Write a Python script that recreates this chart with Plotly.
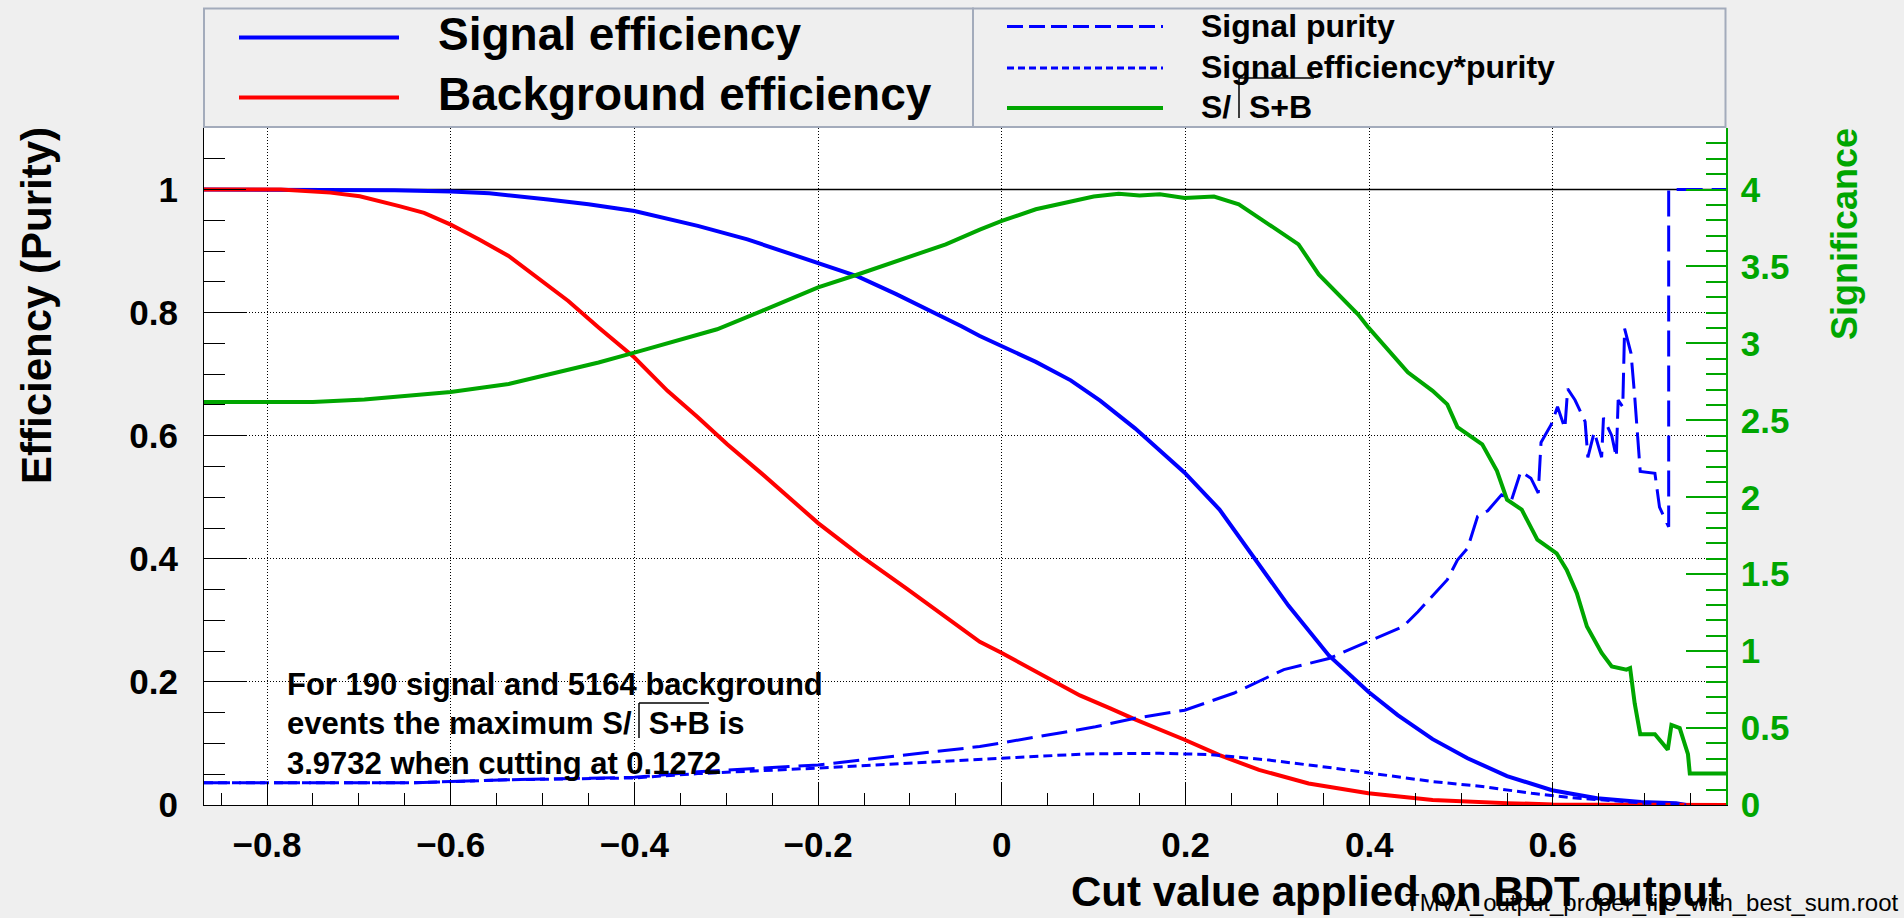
import plotly.graph_objects as go

# ---------------------------------------------------------------- data
# Cut value on the BDT output and the efficiencies read at that cut
sig_eff_cut = [-0.8686, -0.70, -0.661, -0.60, -0.558, -0.494, -0.45, -0.40, -0.331, -0.277,
               -0.20, -0.157, -0.115, -0.077, -0.044, -0.024, 0.0, 0.037, 0.075, 0.107,
               0.145, 0.172, 0.199, 0.237, 0.275, 0.312, 0.356, 0.399, 0.431, 0.469,
               0.507, 0.55, 0.599, 0.648, 0.696, 0.734, 0.745]
sig_eff = [1.0, 1.0, 0.999, 0.997, 0.994, 0.984, 0.976, 0.965, 0.941, 0.919,
           0.881, 0.859, 0.830, 0.803, 0.778, 0.762, 0.746, 0.720, 0.690, 0.657,
           0.612, 0.576, 0.540, 0.480, 0.400, 0.324, 0.243, 0.184, 0.146, 0.107,
           0.076, 0.047, 0.024, 0.011, 0.005, 0.003, 0.0]

bkg_eff_cut = [-0.8686, -0.785, -0.731, -0.699, -0.656, -0.629, -0.60, -0.569, -0.537, -0.504,
               -0.472, -0.439, -0.40, -0.364, -0.331, -0.299, -0.261, -0.20, -0.153, -0.104,
               -0.061, -0.024, 0.0, 0.053, 0.085, 0.118, 0.145, 0.199, 0.237, 0.28,
               0.334, 0.399, 0.469, 0.55, 0.60, 0.7884]
bkg_eff = [1.0, 1.0, 0.995, 0.989, 0.973, 0.962, 0.943, 0.919, 0.892, 0.854,
           0.819, 0.776, 0.727, 0.673, 0.630, 0.586, 0.538, 0.458, 0.404, 0.352,
           0.306, 0.265, 0.247, 0.203, 0.178, 0.157, 0.139, 0.106, 0.081, 0.057,
           0.035, 0.019, 0.008, 0.003, 0.001, 0.0]

purity_cut = [-0.8686, -0.645, -0.60, -0.537, -0.40, -0.331, -0.20, -0.115, -0.044, -0.024,
              0.0, 0.053, 0.102, 0.145, 0.199, 0.253, 0.307, 0.356, 0.399, 0.437,
              0.453, 0.485, 0.496, 0.507, 0.518, 0.529, 0.544, 0.555, 0.565, 0.576,
              0.584, 0.587, 0.598, 0.605, 0.613, 0.616, 0.624, 0.635, 0.638, 0.645,
              0.653, 0.655, 0.664, 0.669, 0.671, 0.676, 0.678, 0.685, 0.689, 0.695,
              0.711, 0.716, 0.726, 0.726, 0.7884]
purity = [0.036, 0.036, 0.038, 0.041, 0.045, 0.054, 0.065, 0.080, 0.092, 0.095,
          0.101, 0.114, 0.127, 0.141, 0.154, 0.182, 0.220, 0.238, 0.266, 0.290,
          0.314, 0.366, 0.398, 0.417, 0.469, 0.478, 0.504, 0.496, 0.542, 0.531,
          0.507, 0.589, 0.618, 0.647, 0.612, 0.676, 0.658, 0.623, 0.565, 0.606,
          0.565, 0.629, 0.600, 0.565, 0.658, 0.647, 0.774, 0.734, 0.664, 0.542,
          0.539, 0.484, 0.452, 1.0, 1.0]

eff_pur_cut = [-0.8686, -0.645, -0.60, -0.537, -0.40, -0.331, -0.20, -0.024, 0.0, 0.091,
               0.172, 0.226, 0.291, 0.361, 0.415, 0.469, 0.523, 0.577, 0.62, 0.66,
               0.70, 0.73, 0.745]
eff_pur = [0.036, 0.036, 0.038, 0.041, 0.044, 0.051, 0.060, 0.073, 0.076, 0.083,
           0.084, 0.082, 0.073, 0.060, 0.049, 0.038, 0.030, 0.019, 0.012, 0.007,
           0.003, 0.002, 0.0]

signif_cut = [-0.8686, -0.75, -0.694, -0.60, -0.537, -0.483, -0.439, -0.40, -0.353, -0.31,
              -0.261, -0.20, -0.157, -0.104, -0.061, -0.024, 0.0, 0.037, 0.08, 0.10,
              0.1272, 0.15, 0.172, 0.199, 0.231, 0.258, 0.28, 0.307, 0.323, 0.345,
              0.366, 0.388, 0.399, 0.421, 0.442, 0.469, 0.485, 0.496, 0.523, 0.539,
              0.55, 0.566, 0.583, 0.604, 0.615, 0.626, 0.637, 0.653, 0.664, 0.68,
              0.684, 0.689, 0.695, 0.711, 0.725, 0.729, 0.738, 0.747, 0.749, 0.7884]
signif = [2.62, 2.62, 2.636, 2.684, 2.736, 2.812, 2.876, 2.94, 3.016, 3.092,
          3.212, 3.364, 3.448, 3.556, 3.644, 3.74, 3.796, 3.872, 3.93, 3.955,
          3.9732, 3.962, 3.970, 3.945, 3.955, 3.904, 3.816, 3.708, 3.644, 3.448,
          3.32, 3.188, 3.104, 2.952, 2.812, 2.692, 2.604, 2.456, 2.344, 2.172,
          1.984, 1.92, 1.724, 1.636, 1.528, 1.376, 1.16, 0.988, 0.90, 0.88,
          0.89, 0.66, 0.46, 0.46, 0.36, 0.52, 0.50, 0.33, 0.204, 0.204]

n_signal, n_background = 190, 5164
best_signif, best_cut = 3.9732, 0.1272

x_range = [-0.8686, 0.7884]
eff_range = [0.0, 1.1]
signif_range = [0.0, 4.4]

# ---------------------------------------------------------------- style
W, H = 1904, 918
L, R, T, B = 204, 178, 128, 113
PW, PH = W - L - R, H - T - B

BG = "#efefef"
BOX = "#a3abbb"
BLUE = "#0000ff"
RED = "#ff0000"
GREEN = "#00a600"
FONT = "Liberation Sans, Arial, sans-serif"


def px(x):
    """pixel column -> paper x"""
    return (x - L) / PW


def py(y):
    """pixel row -> paper y"""
    return (H - B - y) / PH


fig = go.Figure()

fig.add_trace(go.Scatter(x=sig_eff_cut, y=sig_eff, mode="lines",
                         line=dict(color=BLUE, width=4)))
fig.add_trace(go.Scatter(x=bkg_eff_cut, y=bkg_eff, mode="lines",
                         line=dict(color=RED, width=4)))
fig.add_trace(go.Scatter(x=purity_cut, y=purity, mode="lines",
                         line=dict(color=BLUE, width=3, dash="26px,9px")))
fig.add_trace(go.Scatter(x=eff_pur_cut, y=eff_pur, mode="lines",
                         line=dict(color=BLUE, width=3, dash="9px,5px")))
fig.add_trace(go.Scatter(x=signif_cut, y=signif, mode="lines", yaxis="y2",
                         line=dict(color=GREEN, width=4)))

tick_font = dict(family=FONT, size=35, color="black", weight="bold")

fig.update_layout(
    width=W, height=H,
    margin=dict(l=L, r=R, t=T, b=B, pad=0),
    paper_bgcolor=BG, plot_bgcolor="white",
    showlegend=False,
    xaxis=dict(
        range=x_range, tick0=0, dtick=0.2,
        ticks="inside", ticklen=23, tickwidth=1, tickcolor="black",
        showline=True, linecolor="black", linewidth=1,
        showgrid=True, gridcolor="black", gridwidth=1, griddash="1px,2px",
        zeroline=False, tickfont=tick_font, ticklabelstandoff=9,
        minor=dict(dtick=0.05, tick0=0, ticks="inside", ticklen=12,
                   tickcolor="black", tickwidth=1, showgrid=False),
    ),
    yaxis=dict(
        range=eff_range, tick0=0, dtick=0.2,
        ticks="inside", ticklen=42, tickwidth=1, tickcolor="black",
        showline=True, linecolor="black", linewidth=1,
        showgrid=True, gridcolor="black", gridwidth=1, griddash="1px,2px",
        zeroline=False, tickfont=tick_font, ticklabelstandoff=18,
        minor=dict(dtick=0.05, tick0=0, ticks="inside", ticklen=21,
                   tickcolor="black", tickwidth=1, showgrid=False),
    ),
    yaxis2=dict(
        range=signif_range, overlaying="y", side="right", anchor="x",
        tick0=0, dtick=0.5,
        ticks="inside", ticklen=40, tickwidth=1.5, tickcolor=GREEN,
        showline=True, linecolor=GREEN, linewidth=1.5,
        showgrid=False, zeroline=False,
        tickfont=dict(family=FONT, size=35, color=GREEN, weight="bold"),
        ticklabelstandoff=6,
        minor=dict(dtick=0.1, tick0=0, ticks="inside", ticklen=20,
                   tickcolor=GREEN, tickwidth=1.5),
    ),
)

shapes = []
# horizontal reference at efficiency 1
shapes.append(dict(type="line", xref="paper", yref="y", x0=0, x1=1, y0=1, y1=1,
                   line=dict(color="black", width=1.5), layer="between"))

# legend boxes
for x0, x1 in [(204, 973), (973, 1725.5)]:
    shapes.append(dict(type="rect", xref="paper", yref="paper",
                       x0=px(x0), x1=px(x1), y0=py(127), y1=py(8.5),
                       fillcolor=BG, line=dict(color=BOX, width=2)))

# legend samples
samples = [
    (239, 399, 37.5, BLUE, 4, "solid"),
    (239, 399, 97.5, RED, 4, "solid"),
    (1007, 1163, 26.5, BLUE, 3, "16px,6px"),
    (1007, 1163, 68, BLUE, 3, "7px,4px"),
    (1007, 1163, 108, GREEN, 4, "solid"),
]
for x0, x1, yy, col, w, dash in samples:
    shapes.append(dict(type="line", xref="paper", yref="paper",
                       x0=px(x0), x1=px(x1), y0=py(yy), y1=py(yy),
                       line=dict(color=col, width=w, dash=dash)))

# radical strokes and bars drawn the way the text renderer placed them
radicals = [
    (639, 703, 738, 709),    # text box, second line
    (1239, 78, 118, 1314),   # legend, third row
]
for xs, ytop, ybot, xend in radicals:
    shapes.append(dict(type="line", xref="paper", yref="paper",
                       x0=px(xs), x1=px(xs), y0=py(ybot), y1=py(ytop),
                       line=dict(color="black", width=1.5)))
    shapes.append(dict(type="line", xref="paper", yref="paper",
                       x0=px(xs), x1=px(xend), y0=py(ytop), y1=py(ytop),
                       line=dict(color="black", width=1.5)))

fig.update_layout(shapes=shapes)


def label(text, x, y, size, xanchor="left", color="black", weight="bold", angle=0):
    fig.add_annotation(text=text, xref="paper", yref="paper", x=px(x), y=py(y),
                       xanchor=xanchor, yanchor="middle", showarrow=False,
                       textangle=angle,
                       font=dict(family=FONT, size=size, color=color, weight=weight))


NB = "\u00a0\u00a0"
label("Signal efficiency", 436, 34, 46)
label("Background efficiency", 436, 94, 46)
label("Signal purity", 1199, 26, 32)
label("Signal efficiency*purity", 1199, 67, 32)
label("S/" + NB + "S+B", 1199, 107, 32)

label(f"For {n_signal} signal and {n_background} background", 285, 684, 31)
label("events the maximum S/" + NB + "S+B is", 285, 723, 31)
label(f"{best_signif:.4f} when cutting at {best_cut:.4f}", 285, 763, 31)

label("Efficiency (Purity)", 36, 306, 42, xanchor="center", angle=-90)
label("Significance", 1845, 234, 36, xanchor="center", color=GREEN, angle=-90)
label("TMVA_output_proper_file_with_best_sum.root", 1900, 903, 24,
      xanchor="right", weight="normal")
label("Cut value applied on BDT output", 1724, 891, 42, xanchor="right")

fig.write_html("out.html")
